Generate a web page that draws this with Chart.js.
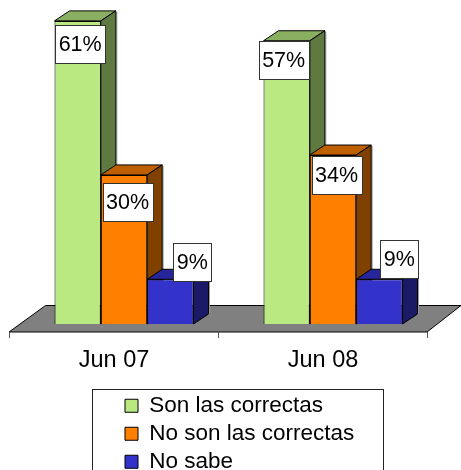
<!DOCTYPE html>
<html><head><meta charset="utf-8">
<style>html,body{margin:0;padding:0;background:#fff}canvas{display:block}</style>
<script src="https://cdn.jsdelivr.net/npm/chart.js@4"></script>
</head><body><canvas id="c" width="461" height="470"></canvas>
<script>
const categories = ['Jun 07', 'Jun 08'];
const seriesNames = ['Son las correctas', 'No son las correctas', 'No sabe'];
const correctas = [61, 57];
const noCorrectas = [30, 34];
const noSabe = [9, 9];
const frontColors = ['#B9E980', '#FF8000', '#3333CC'];
const topColors = ['#8BAF60', '#BF6000', '#26269A'];
const sideColors = ['#5F7A40', '#804000', '#1A1A66'];
const labelNudge = [[[2.5, 23], [-3, 19]], [[3.5, 27], [3.5, 20]], [[22, -17], [20, -20]]];
const FONT = '"Liberation Sans", Arial, sans-serif';
const DX = 15, DY = 10;

const scene = {
  id: 'scene',
  afterLayout(chart) {
    const l = chart.legend, p = l.options.labels.padding;
    l.left = 125 - p; l.top = 389; l.right = 460; l.bottom = 600;
    l.width = l.right - l.left; l.height = l.bottom - l.top;
  },
  beforeDatasetsDraw(chart) {
    const ctx = chart.ctx, xs = chart.scales.x, base = chart.scales.y.getPixelForValue(0);
    const fl = xs.left - 10.5, fr = xs.right - 10.5, fb = base + 8, ft = base - 18.5;
    ctx.save();
    ctx.lineWidth = 1;
    ctx.fillStyle = '#808080'; ctx.strokeStyle = '#000';
    ctx.beginPath();
    ctx.moveTo(fl, fb); ctx.lineTo(fl + 36.5, ft); ctx.lineTo(461, ft); ctx.lineTo(fr, fb); ctx.closePath();
    ctx.fill(); ctx.stroke();
    ctx.strokeStyle = '#555';
    categories.concat(['']).forEach((_, i) => {
      const tx = Math.round(fl + i * (fr - fl) / categories.length) + 0.5;
      ctx.beginPath(); ctx.moveTo(tx, fb); ctx.lineTo(tx, fb + 6); ctx.stroke();
    });
    categories.forEach((_, c) => {
      chart.data.datasets.forEach((ds, d) => {
        const b = chart.getDatasetMeta(d).data[c];
        const L = b.x - b.width / 2, R = b.x + b.width / 2, T = b.y, B = b.base;
        ctx.strokeStyle = '#999';
        ctx.beginPath(); ctx.moveTo(R + DX + 1, T - DY + 1); ctx.lineTo(R + DX + 1, B - DY); ctx.stroke();
        ctx.strokeStyle = '#000';
        ctx.fillStyle = topColors[d];
        ctx.beginPath();
        ctx.moveTo(L, T); ctx.lineTo(L + DX, T - DY); ctx.lineTo(R + DX, T - DY); ctx.lineTo(R, T); ctx.closePath();
        ctx.fill(); ctx.stroke();
        ctx.fillStyle = sideColors[d];
        ctx.beginPath();
        ctx.moveTo(R, T); ctx.lineTo(R + DX, T - DY); ctx.lineTo(R + DX, B - DY); ctx.lineTo(R, B); ctx.closePath();
        ctx.fill(); ctx.stroke();
      });
    });
    ctx.restore();
  },
  afterDatasetsDraw(chart) {
    const ctx = chart.ctx;
    ctx.save();
    ctx.font = '21.5px ' + FONT;
    ctx.textAlign = 'center'; ctx.textBaseline = 'middle';
    chart.data.datasets.forEach((ds, d) => {
      ds.data.forEach((v, c) => {
        const b = chart.getDatasetMeta(d).data[c];
        const cx = b.x + labelNudge[d][c][0], cy = b.y + labelNudge[d][c][1];
        const txt = v + '%';
        const w = Math.round(ctx.measureText(txt).width) + 7, h = 38;
        const x0 = Math.round(cx - w / 2) + 0.5, y0 = Math.round(cy - h / 2) + 0.5;
        ctx.fillStyle = '#fff'; ctx.strokeStyle = '#333'; ctx.lineWidth = 1;
        ctx.fillRect(x0, y0, w, h); ctx.strokeRect(x0, y0, w, h);
        ctx.fillStyle = '#000';
        ctx.fillText(txt, cx, cy + 1);
      });
    });
    ctx.strokeStyle = '#222'; ctx.lineWidth = 1;
    ctx.strokeRect(92.5, 389.5, 291, 100);
    ctx.restore();
  }
};

new Chart(document.getElementById('c'), {
  type: 'bar',
  data: {
    labels: categories,
    datasets: [correctas, noCorrectas, noSabe].map((data, i) => ({
      label: seriesNames[i], data,
      backgroundColor: frontColors[i], borderColor: '#000', borderWidth: 1,
      categoryPercentage: 0.665, barPercentage: 1
    }))
  },
  plugins: [scene],
  options: {
    responsive: false, animation: false, devicePixelRatio: 1,
    layout: { padding: { left: 19.5, right: 23.5, top: 1, bottom: 0 } },
    scales: {
      x: {
        grid: { display: false }, border: { display: false },
        afterFit: s => { s.height = 146; },
        ticks: { color: '#000', font: { family: FONT, size: 23.5 }, padding: 14, labelOffset: -10, maxRotation: 0 }
      },
      y: { display: false, min: 0, max: 65, afterFit: s => { s.width = 0; } }
    },
    plugins: {
      tooltip: { enabled: false },
      legend: {
        position: 'chartArea', align: 'start',
        labels: { color: '#000', font: { family: FONT, size: 22.5 }, boxWidth: 13, boxHeight: 13, padding: 5.5 }
      }
    }
  }
});
</script></body></html>
